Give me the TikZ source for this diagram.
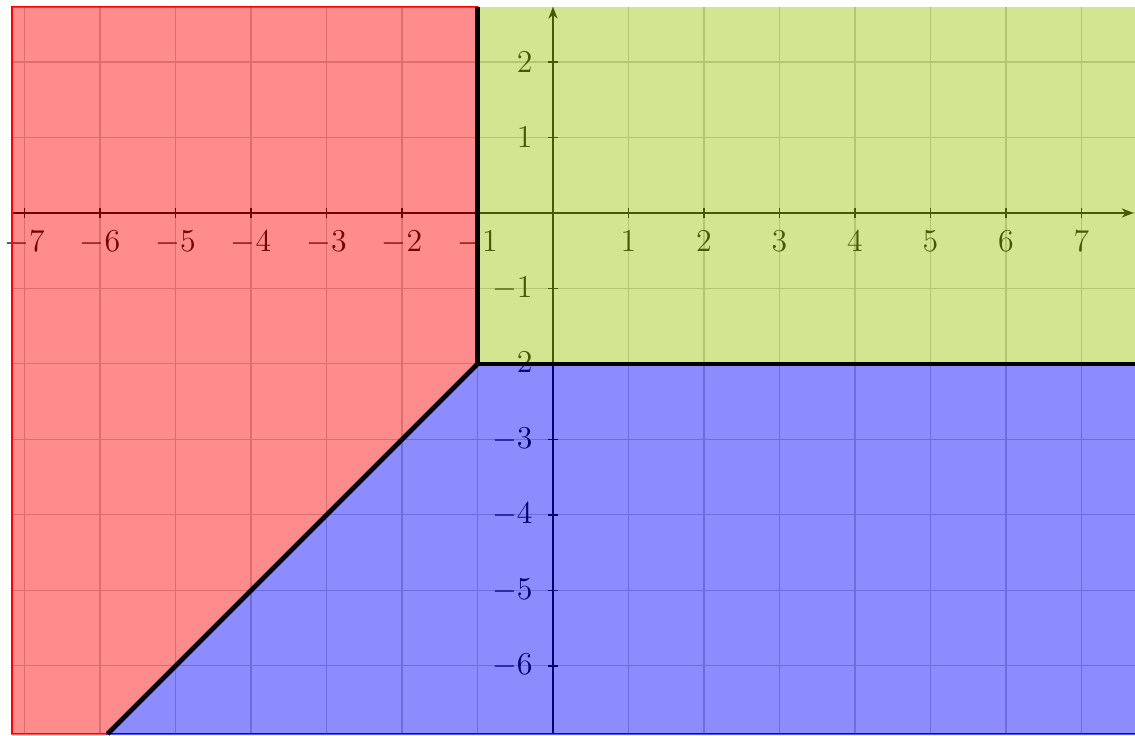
\documentclass[tikz,border=0pt]{standalone}
\usetikzlibrary{arrows.meta}
\definecolor{regred}{RGB}{255,0,0}
\definecolor{reggreen}{RGB}{155,200,10}
\definecolor{regblue}{RGB}{0,0,255}
\tikzset{
  gridline/.style={draw=black!22, line width=0.4pt},
  axisline/.style={draw=black, line width=0.5pt, -{Stealth[length=4.5pt,width=3.5pt]}},
  tickmark/.style={draw=black, line width=0.5pt},
  ticklab/.style={inner sep=0pt, font=\fontsize{13}{15}\selectfont},
  xlab/.style={ticklab, anchor=north, yshift=-0.225cm},
  ylab/.style={ticklab, anchor=east, xshift=-0.265cm},
  region/.style={fill opacity=0.45, line width=0.6pt},
  border/.style={line width=1.8pt, draw=black},
}
\begin{document}
\begin{tikzpicture}
\useasboundingbox (-7.325,-6.927) rectangle (7.709,2.821);
\def\xl{-7.166}
\def\xr{7.69}
\def\xf{7.95}
\def\yt{2.73}
\def\yb{-6.9}
% grid
\foreach \x in {-7,...,7} \draw[gridline] (\x,\yb) -- (\x,\yt);
\foreach \y in {-6,...,2} \draw[gridline] (\xl,\y) -- (\xf,\y);
% axes
\coordinate (xs) at (\xl,0);
\coordinate (xe) at (\xr,0);
\coordinate (ys) at (0,\yb);
\coordinate (ye) at (0,\yt);
\draw[axisline] (xs) -- (xe);
\draw[axisline] (ys) -- (ye);
% ticks and labels
\foreach \x in {-7,...,-1,1,2,...,7} {
  \draw[tickmark] (\x,-0.07) -- (\x,0.07);
  \node[xlab] (xl\x) at (\x,0) {$\x$};
}
\foreach \y in {-6,...,-1,1,2} {
  \draw[tickmark] (-0.07,\y) -- (0.07,\y);
  \node[ylab] (yl\y) at (0,\y) {$\y$};
}
% regions
\coordinate (c) at (-1,-2);
\coordinate (ctop) at (-1,\yt);
\coordinate (cright) at (\xf,-2);
\coordinate (cdiag) at (-5.9,\yb);
\filldraw[region, fill=regred, draw=regred] (\xl,\yt) -- (ctop) -- (c) -- (cdiag) -- (\xl,\yb) -- cycle;
\fill[region, fill=reggreen] (c) -- (ctop) -- (\xf,\yt) -- (cright) -- cycle;
\filldraw[region, fill=regblue, draw=regblue] (c) -- (cright) -- (\xf,\yb) -- (cdiag) -- cycle;
% boundaries
\draw[border] (ctop) -- (c) -- (cright);
\draw[border] (c) -- (cdiag);
\end{tikzpicture}
\end{document}
